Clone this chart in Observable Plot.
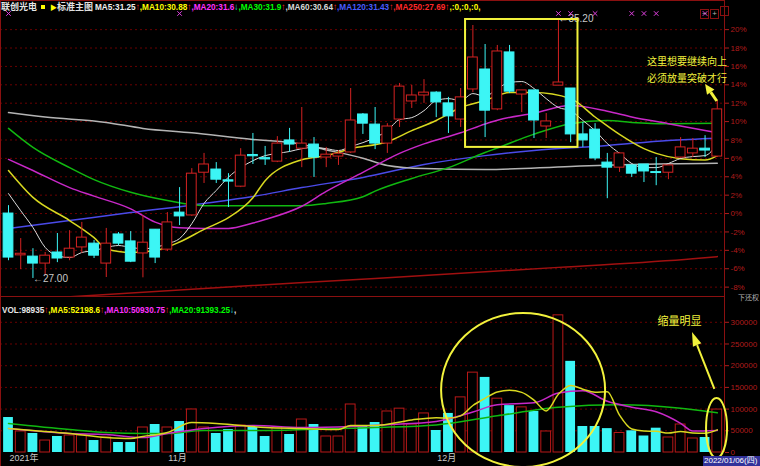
<!DOCTYPE html>
<html><head><meta charset="utf-8">
<script src="https://cdn.jsdelivr.net/npm/d3@7"></script>
<script src="https://cdn.jsdelivr.net/npm/@observablehq/plot@0.6"></script>
<style>
html,body{margin:0;padding:0;background:#000;}
body{width:760px;height:466px;overflow:hidden;position:relative;font-family:"Liberation Sans","Noto Sans CJK SC",sans-serif;}
.abs{position:absolute;white-space:nowrap;}
.hdr{font-weight:bold;font-size:9.5px;line-height:12px;font-family:"Liberation Sans","Noto Sans CJK SC",sans-serif;}
.sq{transform-origin:0 50%;}
.line{position:absolute;background:#8a1010;}
</style></head><body>
<div id="price" class="abs" style="left:0;top:0"></div>
<div id="vol" class="abs" style="left:0;top:296px"></div>
<div class="line" style="left:0;top:296px;width:725px;height:1px"></div>
<div class="line" style="left:0;top:0;width:725px;height:1px"></div>
<div class="line" style="left:0;top:0;width:1px;height:466px"></div>
<div id="hdr0" class="abs hdr" style="left:1px;top:1px"></div>
<div id="hdr1" class="abs hdr sq" style="left:95px;top:1px;transform:scaleX(0.865)"></div>
<div id="hdr2" class="abs hdr sq" style="left:2px;top:304px;transform:scaleX(0.86)"></div>
<div id="icons" class="abs" style="left:700px;top:2px"></div>
<div class="abs" style="left:738px;top:293px;font-size:7px;line-height:9px;color:#b0b0b0;font-family:'Noto Sans CJK SC'">下还权</div>
<div id="lastdate" class="abs" style="left:703px;top:456px;width:56px;height:10px;background:#32329a;color:#fff;font-size:8px;line-height:10px;padding-left:1px;font-family:'Liberation Sans','Noto Sans CJK SC'"></div>
<script>
// ---------------- data ----------------
const stockName = "联创光电";
const chartName = "标准主图";
const basePrice = 29.05;
const open  = [29.05,27.73,27.69,27.47,27.82,27.66,27.98,28.10,27.47,28.39,28.17,27.79,28.54,27.91,29.08,28.99,30.34,30.44,30.10,29.90,30.90,30.80,30.69,31.36,31.10,31.23,30.82,30.85,30.98,32.18,31.86,31.26,32.02,32.59,32.78,32.87,32.53,32.02,32.97,33.60,32.34,34.14,32.81,32.94,31.80,33.09,33.00,31.55,31.70,30.66,30.50,30.57,30.60,30.36,30.34,30.82,30.95,31.10,30.85];
const close = [27.66,27.78,27.47,27.72,27.63,27.94,28.29,27.72,28.10,28.10,27.53,28.13,27.66,28.77,28.96,30.31,30.60,30.12,30.06,30.88,30.86,30.76,31.26,31.23,31.26,30.82,30.91,30.94,31.99,31.89,31.26,31.80,33.06,32.78,32.87,32.56,32.12,32.72,33.98,32.30,34.17,32.90,32.94,31.99,31.96,33.19,31.55,31.36,30.79,30.50,30.95,30.31,30.38,30.33,30.57,31.14,31.10,31.04,32.34];
const high  = [29.30,28.26,27.94,27.82,28.42,28.51,28.77,28.20,28.58,28.45,28.48,28.99,28.54,29.08,29.87,30.47,30.95,30.66,30.31,31.10,31.58,31.17,31.48,31.74,32.40,31.45,31.14,31.04,33.00,32.21,32.40,31.89,33.16,33.10,33.28,32.90,32.72,33.00,34.99,34.39,34.36,34.36,32.94,32.94,32.21,35.20,33.00,31.93,31.89,30.95,30.98,30.57,30.60,30.82,30.57,31.45,31.42,31.51,32.62];
const low   = [27.56,27.28,27.00,27.09,27.50,27.56,27.79,27.63,27.03,28.04,27.50,27.02,27.47,27.85,28.67,28.96,30.00,30.00,29.24,29.87,30.60,30.57,30.66,30.98,30.50,30.19,30.50,30.57,30.95,31.55,31.07,30.95,31.77,32.37,32.53,32.08,31.58,31.77,32.87,31.45,32.30,32.84,32.24,31.42,31.42,33.09,31.29,31.14,30.72,29.52,30.35,30.19,30.03,29.93,30.12,30.79,30.82,30.82,30.82];
const volume = [80600,48400,43800,27600,36900,39200,39200,27600,34600,23000,23000,57600,64500,57600,71400,99100,57600,43800,53000,62200,57600,36900,57600,41500,76000,64500,36900,36900,110600,62200,69100,94500,101000,64500,90000,50700,90000,127000,184000,173000,124000,108000,104000,94500,48400,316000,210000,59900,59900,55000,45000,50000,38000,56000,34600,64500,32300,34600,98935];

// price moving averages
const ma5 = [29.68,29.14,28.61,27.98,27.72,27.66,27.82,27.88,27.98,28.04,27.98,27.94,27.98,28.10,28.26,28.73,29.37,29.78,30.20,30.50,30.72,30.88,30.95,31.01,31.10,31.14,31.10,31.04,31.17,31.29,31.45,31.67,32.02,32.08,32.30,32.62,32.68,32.62,32.84,32.75,33.00,33.19,33.22,33.00,32.68,32.40,32.30,31.99,31.67,31.26,30.95,30.63,30.50,30.50,30.63,30.79,30.85,30.88,31.25];
const ma10 = [[0,30.41],[2,29.56],[5,28.83],[7,28.29],[8,27.94],[10,27.82],[12,27.88],[14,28.15],[16,28.55],[18,28.92],[20,29.55],[21,30.09],[24,30.75],[26,30.88],[28,31.10],[31,31.32],[33,31.67],[35,31.99],[37,32.40],[39,32.62],[41,32.87],[43,32.87],[46,32.68],[48,32.10],[50,31.55],[52,31.10],[53,30.95],[55,30.78],[57,30.74],[58,30.88]];
const ma20 = [[0,30.76],[2,30.41],[5,29.87],[7,29.60],[10,29.20],[12,28.78],[14,28.60],[16,28.58],[18,28.58],[20,28.75],[21,28.86],[24,29.28],[26,29.75],[29,30.35],[32,30.95],[34,31.25],[37,31.60],[39,31.88],[40,32.00],[43,32.22],[46,32.46],[49,32.28],[51,32.10],[54,31.89],[58,31.60]];
const ma30 = [[0,31.74],[2,31.14],[5,30.50],[7,30.12],[10,29.72],[13,29.46],[16,29.30],[20,29.30],[24,29.30],[26,29.37],[29,29.58],[30,29.76],[33,30.16],[36,30.50],[39,30.98],[40,31.12],[43,31.56],[46,31.89],[49,31.99],[51,31.93],[54,31.89],[58,31.90]];
const ma60 = [[0,32.24],[3,32.10],[8,31.93],[11,31.74],[15,31.60],[20,31.39],[23,31.30],[26,31.06],[29,30.80],[31,30.57],[34,30.47],[39,30.44],[46,30.54],[51,30.60],[58,30.64]];
const ma120 = [[0,28.58],[5,28.83],[10,29.08],[16,29.37],[20,29.59],[24,29.87],[29,30.19],[34,30.60],[39,30.88],[43,31.04],[49,31.20],[54,31.36],[58,31.43]];
const ma250 = [[0,26.30],[17,26.71],[30,27.00],[45,27.35],[56,27.62],[58,27.69]];

// volume moving averages
const volMa5 = [[0,55300],[2,50700],[5,43800],[8,34600],[10,32300],[11,36900],[13,46100],[15,69100],[17,66800],[19,62200],[21,57600],[24,55300],[27,53000],[28,62200],[30,62200],[33,75000],[35,80100],[36,79200],[37,84400],[38,108300],[39,124900],[40,139600],[41,143200],[42,138600],[43,120700],[44,95800],[45,134200],[46,154600],[47,145800],[48,138800],[49,140200],[50,86000],[51,54000],[52,49600],[53,48800],[54,44700],[55,48600],[56,45100],[57,44400],[58,52198]];
const volMa10 = [[0,55300],[5,43800],[8,41500],[11,34600],[13,43800],[16,55300],[20,62200],[24,57600],[28,59900],[31,64000],[35,71600],[38,93300],[40,109900],[43,114500],[45,136900],[47,142200],[49,118000],[51,104300],[53,93800],[55,67300],[56,49500],[58,50930]];
const volMa20 = [[0,66800],[5,52900],[8,46100],[11,43800],[13,43800],[16,50700],[21,50700],[27,55300],[30,57600],[35,63400],[40,84500],[45,104300],[50,110000],[55,102100],[58,91393]];

const pctTicks = [-8,-6,-4,-2,0,2,4,6,8,10,12,14,16,18,20];
const volTicks = [0,50000,100000,150000,200000,250000,300000];
const dateIdx = [0,13,35];
const dateText = ["2021年","11月","12月"];
const lastDate = "2022/01/06(四)";
const markerIdx = [0,14,45,46,48,51,52,53,57];
const priceLabels = [{i:2, p:27.00, t:"←27.00"},{i:45, p:35.20, t:"←35.20"}];
const noteText = ["这里想要继续向上","必须放量突破才行"];
const volNote = "缩量明显";
const maHeader = [["MA5:31.25","#f0f0f0"],["↑","#ff2828"],[",MA10:30.88","#ffff00"],["↑","#ff2828"],[",MA20:31.6","#ff30ff"],["↓","#20e0e0"],[",MA30:31.9","#00ff00"],["↑","#ff2828"],[",MA60:30.64","#d8d8d8"],["↑","#ff2828"],[",MA120:31.43","#4a5cff"],["↑","#ff2828"],[",MA250:27.69","#ff2828"],["↑","#ff2828"],[",:0,:0,:0,","#ffff00"]];
const volHeader = [["VOL:98935","#e6e6e6"],["↑","#ff2828"],[",MA5:52198.6","#ffff00"],["↑","#ff2828"],[",MA10:50930.75","#ff30ff"],["↑","#ff2828"],[",MA20:91393.25","#00ff00"],["↓","#20e0e0"],[",","#e6e6e6"]];

// ---------------- styles ----------------
const UP = "#d42222", DN = "#3cf5f5", YEL = "#f2f23c", AX = "#b01c1c", GRID = "#6a0000";
const xDom = [-0.655, 58.59];
const N = open.length;
const candles = d3.range(N).map(i => ({i, o: open[i], c: close[i], h: high[i], l: low[i], v: volume[i], up: close[i] >= open[i]}));
const ups = candles.filter(d => d.up), dns = candles.filter(d => !d.up);
const yTicks = pctTicks.map(p => basePrice * (1 + p / 100));
const P = (arr) => arr.map(d => ({i: d[0], v: d[1]}));

function ellipseMark(cx, cy, rx, ry) {
  return (index, scales) => {
    const X = scales.x, Y = scales.y;
    const x0 = X(cx), y0 = Y(cy);
    return d3.create("svg:ellipse").attr("cx", x0).attr("cy", y0)
      .attr("rx", Math.abs(X(cx + rx) - x0)).attr("ry", Math.abs(Y(cy + ry) - y0))
      .attr("fill", "none").attr("stroke", YEL).attr("stroke-width", 2).node();
  };
}
function arrowMark(x1, y1, x2, y2, head, width, sw) {
  return (index, scales) => {
    const ax = scales.x(x1), ay = scales.y(y1), bx = scales.x(x2), by = scales.y(y2);
    const dx = bx - ax, dy = by - ay, L = Math.hypot(dx, dy), ux = dx / L, uy = dy / L;
    const hx = bx - ux * head, hy = by - uy * head, px = -uy, py = ux;
    const g = d3.create("svg:g");
    g.append("line").attr("x1", ax).attr("y1", ay).attr("x2", hx).attr("y2", hy).attr("stroke", YEL).attr("stroke-width", sw);
    g.append("polygon").attr("fill", YEL).attr("points",
      [[bx, by], [hx + px * width / 2, hy + py * width / 2], [hx - px * width / 2, hy - py * width / 2]].map(p => p.join(",")).join(" "));
    return g.node();
  };
}

const baseStyle = {background: "transparent", color: AX, fontSize: "8px", fontFamily: "Liberation Sans, Noto Sans CJK SC, sans-serif", overflow: "visible"};

// ---------------- price panel ----------------
const pricePlot = Plot.plot({
  width: 760, height: 296, marginLeft: 0, marginRight: 36, marginTop: 0, marginBottom: 0,
  style: baseStyle,
  x: {domain: xDom, axis: null},
  y: {domain: [26.43, 35.78], axis: "right", ticks: yTicks, tickFormat: d => Math.round((d / basePrice - 1) * 100) + "%", tickSize: 4, tickPadding: 2, label: null},
  marks: [
    Plot.ruleY(yTicks, {stroke: GRID, strokeDasharray: "2,3"}),
    Plot.ruleX([xDom[1]], {stroke: "#8a1010"}),
    Plot.line(P(ma250), {x: "i", y: "v", stroke: "#a01010", curve: "monotone-x", clip: true}),
    Plot.line(P(ma120), {x: "i", y: "v", stroke: "#4a4ae8", curve: "monotone-x"}),
    Plot.line(P(ma60), {x: "i", y: "v", stroke: "#b4b4b4", curve: "monotone-x"}),
    Plot.line(P(ma30), {x: "i", y: "v", stroke: "#10b810", curve: "monotone-x"}),
    Plot.line(P(ma20), {x: "i", y: "v", stroke: "#c828c8", curve: "monotone-x"}),
    Plot.line(P(ma10), {x: "i", y: "v", stroke: "#d8d820", curve: "monotone-x"}),
    Plot.line(ma5.map((v, i) => ({i, v})), {x: "i", y: "v", stroke: "#dcdcdc", strokeWidth: 1, curve: "monotone-x"}),
    Plot.ruleX(dns, {x: "i", y1: "l", y2: "h", stroke: DN}),
    Plot.rect(dns, {x1: d => d.i - 0.4, x2: d => d.i + 0.4, y1: "o", y2: "c", fill: DN, stroke: DN}),
    Plot.ruleX(ups, {x: "i", y1: "l", y2: "h", stroke: UP}),
    Plot.rect(ups, {x1: d => d.i - 0.4, x2: d => d.i + 0.4, y1: "o", y2: "c", fill: "#000", stroke: UP}),
    Plot.text(priceLabels, {x: "i", y: "p", text: "t", textAnchor: "start", dx: 0, fill: "#c8c8c8", fontSize: 10}),
    Plot.dot(markerIdx, {x: d => d, frameAnchor: "top", dy: 13, symbol: "times", r: 2.2, stroke: "#e040e0", strokeWidth: 1}),
    Plot.rect([{x1: 37.4, x2: 46.6, y1: 31.14, y2: 35.18}], {x1: "x1", x2: "x2", y1: "y1", y2: "y2", fill: "none", stroke: YEL, strokeWidth: 2}),
    Plot.text(noteText.map((t, k) => ({t, i: 52.25, p: [33.84, 33.30][k]})), {x: "i", y: "p", text: "t", textAnchor: "start", fill: YEL, fontSize: 10, fontFamily: "Noto Sans CJK SC"}),
    arrowMark(58.0, 32.59, 57.04, 33.13, 10, 9, 3)
  ]
});
document.getElementById("price").appendChild(pricePlot);

// ---------------- volume panel ----------------
const volPlot = Plot.plot({
  width: 760, height: 170, marginLeft: 0, marginRight: 36, marginTop: 0, marginBottom: 14,
  style: baseStyle,
  x: {domain: xDom, axis: null},
  y: {domain: [0, 359400], axis: "right", ticks: volTicks, tickFormat: d => String(d), tickSize: 4, tickPadding: 2, label: null},
  marks: [
    Plot.ruleY(volTicks.slice(1), {stroke: GRID, strokeDasharray: "2,3"}),
    Plot.ruleX([xDom[1]], {stroke: "#8a1010"}),
    Plot.rect(dns, {x1: d => d.i - 0.4, x2: d => d.i + 0.4, y1: 0, y2: "v", fill: DN}),
    Plot.rect(ups, {x1: d => d.i - 0.4, x2: d => d.i + 0.4, y1: 0, y2: "v", fill: "#000", stroke: "#b81818"}),
    Plot.line(P(volMa20), {x: "i", y: "v", stroke: "#10b810", curve: "monotone-x"}),
    Plot.line(P(volMa10), {x: "i", y: "v", stroke: "#c828c8", curve: "monotone-x"}),
    Plot.line(P(volMa5), {x: "i", y: "v", stroke: "#d8d820", curve: "monotone-x"}),
    Plot.text(dateIdx.map((i, k) => ({i, t: dateText[k]})), {x: "i", text: "t", frameAnchor: "bottom", dy: 8, dx: 1, textAnchor: "start", fill: "#c8c8c8", fontSize: 9}),
    ellipseMark(42.15, 142800, 6.71, 177400),
    ellipseMark(57.98, 55300, 0.86, 69100),
    arrowMark(57.8, 145200, 55.97, 276500, 14, 9, 2),
    Plot.text([volNote], {x: 53.1, y: 301800, text: d => d, textAnchor: "start", fill: YEL, fontSize: 11, fontFamily: "Noto Sans CJK SC"})
  ]
});
document.getElementById("vol").appendChild(volPlot);

// ---------------- headers ----------------
const h0 = d3.select("#hdr0");
h0.append("span").style("color", "#e6e6e6").style("font-family", "Noto Sans CJK SC").style("font-size", "9px").text(stockName);
h0.append("span").style("display", "inline-block").style("width", "4px").style("height", "4px").style("background", "#ffff00").style("margin", "0 5px 1px 4px");
h0.append("span").style("color", "#ffff00").style("font-size", "7px").text("▶");
h0.append("span").style("color", "#e0e0e0").style("font-family", "Noto Sans CJK SC").style("font-size", "9px").text(chartName);
const h1 = d3.select("#hdr1");
maHeader.forEach(([t, c]) => h1.append("span").style("color", c).text(t));
const h2 = d3.select("#hdr2");
volHeader.forEach(([t, c]) => h2.append("span").style("color", c).text(t));
d3.select("#lastdate").text(lastDate);
const ic = d3.select("#icons");
["−", "+", ""].forEach(s => ic.append("span").style("display", "inline-block").style("width", "7px").style("height", "8px").style("border", "1px solid #8a1010").style("color", "#b0b0b0").style("font-size", "8px").style("line-height", "8px").style("text-align", "center").style("margin-right", "1px").text(s));
</script>
</body></html>
